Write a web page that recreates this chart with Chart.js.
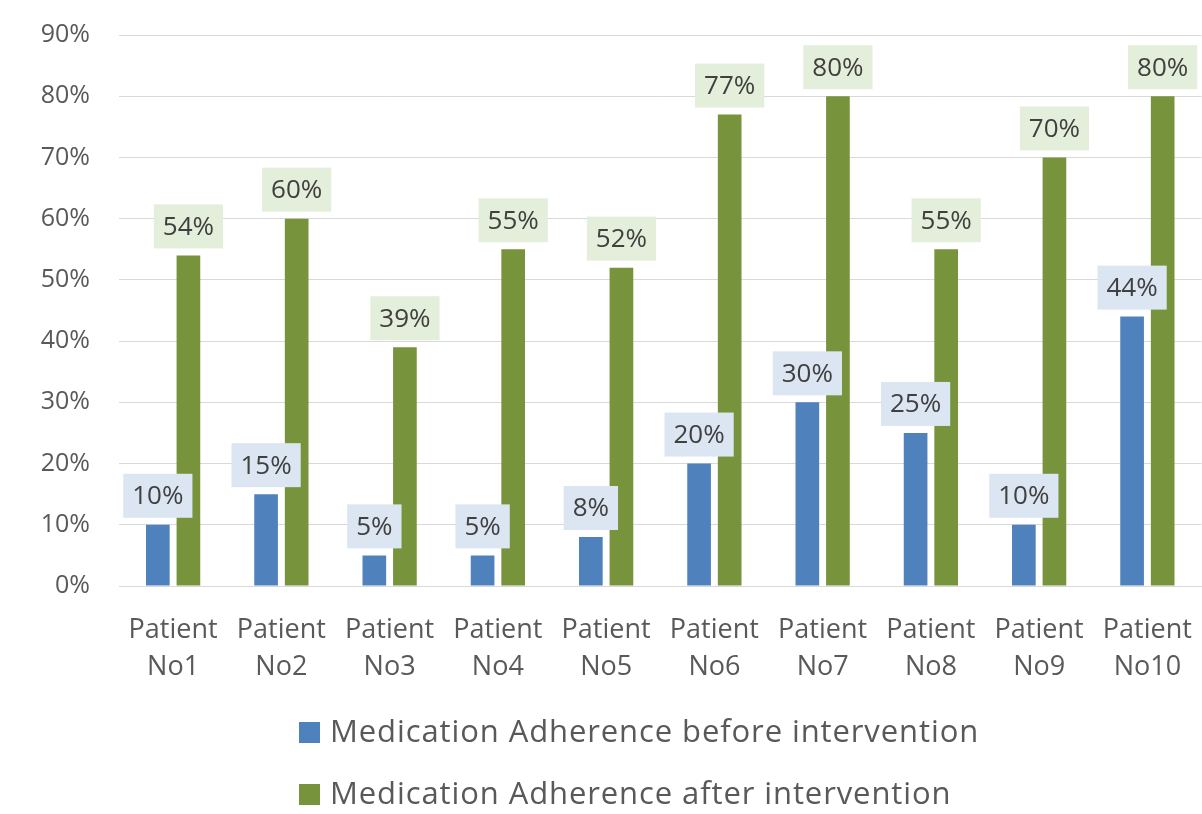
<!DOCTYPE html>
<html>
<head>
<meta charset="utf-8">
<script src="https://cdn.jsdelivr.net/npm/chart.js@4"></script>
<style>
  html, body { margin: 0; padding: 0; background: #fff; overflow: hidden; }
  #wrap { width: 1202px; height: 814px; overflow: hidden; }
</style>
</head>
<body>
<div id="wrap"><canvas id="chart" width="1218" height="814"></canvas></div>
<script>
const categories = ['Patient No1', 'Patient No2', 'Patient No3', 'Patient No4', 'Patient No5',
                    'Patient No6', 'Patient No7', 'Patient No8', 'Patient No9', 'Patient No10'];
const beforeValues = [10, 15, 5, 5, 8, 20, 30, 25, 10, 44];
const afterValues = [54, 60, 39, 55, 52, 77, 80, 55, 70, 80];
const seriesNames = ['Medication Adherence before intervention', 'Medication Adherence after intervention'];
const yTicks = [0, 10, 20, 30, 40, 50, 60, 70, 80, 90];

const FONT = '"Open Sans", Lato, sans-serif';

// value labels with a tinted box above each bar
const labelBoxes = {
    id: 'labelBoxes',
    afterDatasetsDraw(chart) {
        const ctx = chart.ctx;
        const fills = ['#dce6f2', '#e3efda'];
        ctx.save();
        ctx.font = '26px ' + FONT;
        ctx.textAlign = 'center';
        ctx.textBaseline = 'middle';
        chart.data.datasets.forEach((ds, di) => {
            chart.getDatasetMeta(di).data.forEach((bar, i) => {
                const text = ds.data[i] + '%';
                const w = ctx.measureText(text).width + 18;
                const h = 44;
                const bottom = bar.y - 7;
                ctx.fillStyle = fills[di];
                ctx.fillRect(bar.x - w / 2, bottom - h, w, h);
                ctx.fillStyle = '#404040';
                ctx.fillText(text, bar.x, bottom - h / 2 + 1);
            });
        });
        ctx.restore();
    }
};

// two-row legend, left aligned
const bottomLegend = {
    id: 'bottomLegend',
    afterDraw(chart) {
        const ctx = chart.ctx;
        ctx.save();
        ctx.font = '31px ' + FONT;
        ctx.letterSpacing = '0.9px';
        ctx.textAlign = 'left';
        ctx.textBaseline = 'middle';
        chart.data.datasets.forEach((ds, di) => {
            const cy = 732.5 + di * 62;
            ctx.fillStyle = ds.backgroundColor;
            ctx.fillRect(299, cy - 10.5, 21, 21);
            ctx.fillStyle = '#595959';
            ctx.fillText(ds.label, 330, cy + 1);
        });
        ctx.restore();
    }
};

new Chart(document.getElementById('chart'), {
    type: 'bar',
    data: {
        labels: categories.map(c => c.split(' ')),
        datasets: [
            { label: seriesNames[0], data: beforeValues, backgroundColor: '#4f81bd' },
            { label: seriesNames[1], data: afterValues, backgroundColor: '#77933c' }
        ]
    },
    options: {
        responsive: false,
        animation: false,
        categoryPercentage: 0.565,
        barPercentage: 0.774,
        layout: { padding: { top: 35, right: 2, left: 0, bottom: 0 } },
        plugins: {
            legend: { display: false },
            tooltip: { enabled: false }
        },
        scales: {
            x: {
                grid: { display: false, drawTicks: false },
                border: { color: '#d9d9d9', width: 1 },
                ticks: {
                    color: '#595959',
                    font: { family: FONT, size: 27, lineHeight: 1.37 },
                    padding: 26,
                    maxRotation: 0,
                    autoSkip: false
                },
                afterFit(scale) { scale.height = 228; }
            },
            y: {
                min: 0,
                max: 90,
                afterBuildTicks(scale) { scale.ticks = yTicks.map(v => ({ value: v })); },
                grid: { color: '#d9d9d9', lineWidth: 1, drawTicks: true, tickLength: 29, tickColor: 'rgba(0,0,0,0)' },
                border: { display: false },
                ticks: {
                    color: '#595959',
                    font: { family: FONT, size: 25 },
                    padding: 0,
                    callback: v => v + '%'
                },
                afterFit(scale) { scale.width = 119; }
            }
        }
    },
    plugins: [labelBoxes, bottomLegend]
});
</script>
</body>
</html>
